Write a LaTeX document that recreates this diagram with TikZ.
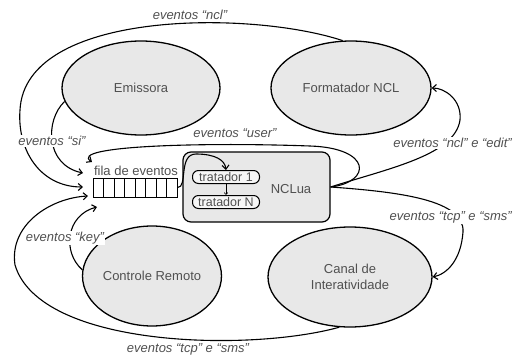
\documentclass[tikz,border=0pt]{standalone}
\usepackage{fontspec}
\setmainfont{Liberation Sans}
\usetikzlibrary{shapes,arrows.meta}
\definecolor{tv_fill}{RGB}{232, 232, 232}
\definecolor{tv_text}{RGB}{80, 80, 80}
\tikzstyle{en}=[ellipse,fill=tv_fill,draw=black,line width=1.3pt,
  text=tv_text,font=\fontsize{13}{15.5}\selectfont,align=center,inner sep=0pt]
\tikzstyle{bx}=[rectangle,rounded corners=8pt,fill=tv_fill,draw=black,
  line width=1.2pt,minimum width=147pt,minimum height=70pt]
\tikzstyle{tn}=[rectangle,rounded corners=6pt,fill=white!60!tv_fill,draw=black,
  line width=1pt,text=tv_text,font=\fontsize{12.5}{14}\selectfont,
  inner sep=0pt,minimum width=67pt,minimum height=13pt]
\tikzstyle{cell}=[rectangle,fill=white,draw=black,line width=1pt,
  inner sep=0pt,minimum width=10.5pt,minimum height=19pt]
\tikzstyle{txt}=[text=tv_text,font=\fontsize{13}{15}\selectfont,inner sep=0pt]
\tikzstyle{lbl}=[text=tv_text,font=\fontsize{13}{15}\selectfont\itshape,inner sep=1pt]
\tikzstyle{ev}=[line width=1.1pt,-{Straight Barb[length=4pt,width=7pt]}]

\begin{document}
\begin{tikzpicture}[x=1pt,y=-1pt]
    \useasboundingbox (0,0) rectangle (515,359);
    \node [style=en,minimum width=158pt,minimum height=94pt] (em) at (141,88) {Emissora};
    \node [style=en,minimum width=160pt,minimum height=94pt] (fmt) at (351,88) {Formatador NCL};
    \node [style=en,minimum width=134pt,minimum height=100pt] (ctl) at (152,276) {Controle Remoto};
    \node [style=en,minimum width=164pt,minimum height=100pt] (can) at (350,277) {Canal de\\Interatividade};
    \node [style=bx] (nclua) at (256.5,187) {};
    \node [style=txt] (lnc) at (291,189) {NCLua};
    \node [style=tn] (tr1) at (226,177) {tratador 1};
    \node [style=tn] (trn) at (226,202) {tratador N};
    \foreach \i in {1,...,8}
      \node [style=cell] (q\i) at ({87.75+10.5*\i},187.5) {};
    \node [style=txt] (lfila) at (136,171) {fila de eventos};
    \coordinate (qu) at (92,162);
    \coordinate (qs) at (83,173);
    \coordinate (qn) at (83,187);
    \coordinate (qt) at (88,196);
    \coordinate (qk) at (97,207);
    % eventos que chegam na fila
    \draw [style=ev] (fmt.100) .. controls (250,10) and (25,10) .. (20,110)
      .. controls (17,150) and (40,187) .. (qn);
    \draw [style=ev] (em.190) .. controls (45,120) and (45,165) .. (qs);
    \draw [style=ev] (nclua.east) .. controls (372,182) and (372,148) .. (310,146)
      .. controls (200,142) and (68,146) .. (qu);
    \draw [style=ev] (can.258) .. controls (250,352) and (40,348) .. (15,265)
      .. controls (9,225) and (50,198) .. (qt);
    \draw [style=ev] (ctl.175) .. controls (62,252) and (66,215) .. (qk);
    % saidas do NCLua
    \draw [style=ev] (nclua.east) .. controls (390,168) and (455,155) .. (460,120)
      .. controls (462,100) and (445,88) .. (fmt.east);
    \draw [style=ev] (nclua.east) .. controls (400,192) and (465,200) .. (463,232)
      .. controls (461,260) and (447,274) .. (can.east);
    \draw [style=ev] (q8.east) .. controls (188,188) and (178,154) .. (196,154)
      .. controls (215,154) and (225,160) .. (tr1.north);
    \draw [line width=0.6pt,-{Straight Barb[length=2pt,width=3.5pt]}] (tr1) to (trn);
    % rotulos
    \node [style=lbl] (lncl) at (190,15) {eventos “ncl”};
    \node [style=lbl,fill=white] (lsi) at (52,141) {eventos “si”};
    \node [style=lbl] (luser) at (235,133) {eventos “user”};
    \node [style=lbl,fill=white,anchor=east] (ledit) at (513,143) {eventos “ncl” e “edit”};
    \node [style=lbl,fill=white,anchor=east] (ltcp) at (513,217) {eventos “tcp” e “sms”};
    \node [style=lbl,fill=white] (lkey) at (65,238) {eventos “key”};
    \node [style=lbl] (lsms) at (188,349) {eventos “tcp” e “sms”};
\end{tikzpicture}
\end{document}
